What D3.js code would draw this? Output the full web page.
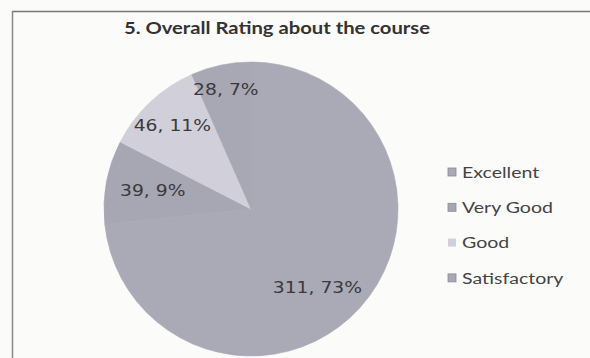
<!DOCTYPE html>
<html><head><meta charset="utf-8">
<script src="https://cdn.jsdelivr.net/npm/d3@7"></script>
<style>body{margin:0;background:#fbfbf9;}svg{display:block;}</style>
</head><body>
<svg id="c" width="590" height="358"></svg>
<script>
const title = "5. Overall Rating about the course";
const categories = ["Excellent", "Very Good", "Good", "Satisfactory"];
const values = [311, 39, 46, 28];
const percentLabels = ["73%", "9%", "11%", "7%"];
const colors = ["#aaa9b6", "#a7a6b3", "#d1d0da", "#a8a7b4"];

const svg = d3.select("#c");
const W = 590, H = 358;
svg.append("line").attr("x1", 12).attr("x2", W).attr("y1", 11.5).attr("y2", 11.5).attr("stroke", "#777").attr("stroke-width", 1.5);
svg.append("line").attr("x1", 12.5).attr("x2", 12.5).attr("y1", 11).attr("y2", H).attr("stroke", "#888").attr("stroke-width", 1.5);

svg.append("text").attr("transform", "translate(277,34) scale(1.19,1)").attr("text-anchor", "middle")
  .attr("font-family", "Lato, 'Open Sans', sans-serif").attr("font-weight", "bold")
  .attr("font-size", 17).attr("fill", "#333").text(title);

const cx = 251, cy = 209, r = 147;
const g = svg.append("g").attr("transform", `translate(${cx},${cy})`);
const pie = d3.pie().sort(null).value(d => d)(values);
const arc = d3.arc().innerRadius(0).outerRadius(r);
g.selectAll("path").data(pie).join("path")
  .attr("d", arc).attr("fill", (d, i) => colors[i])
  .attr("stroke", (d, i) => colors[i]).attr("stroke-width", 0.6);

const labelRatio = [0.70, 0.68, 0.78, 0.83];
const labelShift = [[-10, 10], [0, 0], [0, 0], [0, 0]];
g.selectAll("text.lbl").data(pie).join("text").attr("class", "lbl")
  .attr("transform", (d, i) => {
    const la = d3.arc().innerRadius(r * labelRatio[i]).outerRadius(r * labelRatio[i]);
    const [x, y] = la.centroid(d);
    return `translate(${x + labelShift[i][0]},${y + labelShift[i][1]}) scale(1.25,1)`;
  })
  .attr("text-anchor", "middle").attr("dy", "0.36em")
  .attr("font-family", "'DejaVu Sans', Verdana, sans-serif").attr("font-size", 15)
  .attr("fill", "#3a3a3a")
  .text((d, i) => `${values[i]}, ${percentLabels[i]}`);

const lg = svg.append("g").attr("transform", "translate(448,172)");
const rows = lg.selectAll("g").data(categories).join("g")
  .attr("transform", (d, i) => `translate(0,${i * 35.3})`);
rows.append("rect").attr("x", 0).attr("y", -4).attr("width", 8).attr("height", 8)
  .attr("fill", (d, i) => colors[i]).attr("stroke", (d, i) => i === 2 ? "none" : "#8c8b96").attr("stroke-width", 0.8);
rows.append("text").attr("transform", "translate(14,0) scale(1.22,1)").attr("dy", "0.36em")
  .attr("font-family", "Lato, 'Open Sans', sans-serif").attr("font-size", 16)
  .attr("fill", "#444").text(d => d);
</script>
</body></html>
